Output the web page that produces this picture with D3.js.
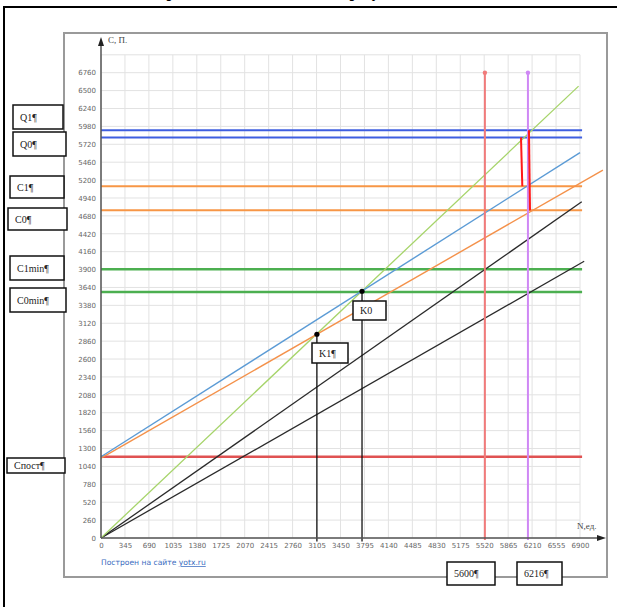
<!DOCTYPE html>
<html><head><meta charset="utf-8">
<script src="https://cdn.jsdelivr.net/npm/d3@7"></script>
<style>body{margin:0;background:#fff}svg{display:block}</style></head>
<body>
<svg id="c" width="617" height="607"></svg>
<script>
// ---------- data ----------
const nTickLabels = [0,345,690,1035,1380,1725,2070,2415,2760,3105,3450,3795,4140,4485,4830,5175,5520,5865,6210,6555,6900];
const cTickLabels = [0,260,520,780,1040,1300,1560,1820,2080,2340,2600,2860,3120,3380,3640,3900,4160,4420,4680,4940,5200,5460,5720,5980,6240,6500,6760];
const gridTop = 7020;

// sloped lines [N, C]
const totalCost0 = [[0,1180],[6900,5600]];   // blue
const totalCost1 = [[0,1160],[7230,5345]];   // orange
const revenue    = [[0,0],[6880,6565]];      // light green
const varCost0   = [[0,0],[6925,4885]];      // black upper
const varCost1   = [[0,0],[6960,4020]];      // black lower

// horizontal levels
const levelNames  = ["Q1","Q0","C1","C0","C1min","C0min","Cпост"];
const levelValues = [5925,5820,5110,4760,3905,3575,1180];
const levelEndN   = 6930;

// break-even points
const kNames = ["K1","K0"];
const kN = [3110,3760];
const kC = [2960,3585];

// vertical markers
const markerNames = ["5600","6216"];
const markerN = [5530,6150];
const markerTopC = 6760;

// red connector segments [[N,C],[N,C]]
const connectors = [
  [[6050,5820],[6069,5110]],
  [[6165,5925],[6180,4760]]
];

// ---------- layout ----------
const svg = d3.select("#c");
const x = d3.scaleLinear().domain([0,6900]).range([101,580]);
const y = d3.scaleLinear().domain([0,6760]).range([538,72.7]);

// title (cut off at top in the reference; only descenders visible)
svg.append("text").attr("x",155).attr("y",-3.5)
  .attr("font-family","Liberation Serif").attr("font-weight","bold").attr("font-size",16)
  .text("Сравнение точек на метке результатов");

// outer black frame
svg.append("path").attr("d","M4,607 V7 H617").attr("fill","none").attr("stroke","#000").attr("stroke-width",2);

// chart frame
svg.append("rect").attr("x",64).attr("y",33).attr("width",543).attr("height",544)
  .attr("fill","#fff").attr("stroke","#9a9a9a").attr("stroke-width",2);

// grid
const g = svg.append("g");
g.selectAll(".vg").data(nTickLabels).join("line")
  .attr("x1",d=>x(d)).attr("x2",d=>x(d)).attr("y1",y(0)).attr("y2",y(gridTop))
  .attr("stroke","#e2e2e2").attr("stroke-width",1);
g.selectAll(".hg").data(cTickLabels.concat([gridTop])).join("line")
  .attr("x1",x(0)).attr("x2",x(6900)).attr("y1",d=>y(d)).attr("y2",d=>y(d))
  .attr("stroke","#e2e2e2").attr("stroke-width",1);

// axes labels
const xAxis = d3.axisBottom(x).tickValues(nTickLabels).tickSize(0).tickPadding(0).tickFormat(d3.format("d"));
const xa = svg.append("g").attr("transform",`translate(0,${y(0)+5})`).call(xAxis);
xa.select(".domain").remove();
xa.selectAll("text").attr("font-family","DejaVu Sans").attr("font-size",7).attr("fill","#666");

const yAxis = d3.axisLeft(y).tickValues(cTickLabels).tickSize(0).tickPadding(0).tickFormat(d3.format("d"));
const ya = svg.append("g").attr("transform",`translate(${x(0)-5},0)`).call(yAxis);
ya.select(".domain").remove();
ya.selectAll("text").attr("font-family","DejaVu Sans").attr("font-size",7).attr("fill","#666");

// horizontal level lines
const levelColors = ["#3f5fe0","#3f5fe0","#f79646","#f79646","#4caf50","#4caf50","#e05252"];
const levelWidths = [2,2,2,2,2.5,2.5,2.5];
svg.append("g").selectAll("line").data(levelValues).join("line")
  .attr("x1",x(0)).attr("x2",x(levelEndN))
  .attr("y1",d=>y(d)).attr("y2",d=>y(d))
  .attr("stroke",(d,i)=>levelColors[i]).attr("stroke-width",(d,i)=>levelWidths[i]);

// sloped lines
const line = d3.line().x(d=>x(d[0])).y(d=>y(d[1]));
const sloped = [
  {data:varCost1, color:"#2a2a2a", w:1.3},
  {data:varCost0, color:"#2a2a2a", w:1.3},
  {data:revenue, color:"#a6d46a", w:1.3},
  {data:totalCost1, color:"#f4914a", w:1.4},
  {data:totalCost0, color:"#5b9bd5", w:1.4}
];
svg.append("g").selectAll("path").data(sloped).join("path")
  .attr("d",d=>line(d.data)).attr("fill","none")
  .attr("stroke",d=>d.color).attr("stroke-width",d=>d.w);

// vertical markers
const markerColors = ["#f07b7b","#cf88f5"];
const mg = svg.append("g");
mg.selectAll("line").data(markerN).join("line")
  .attr("x1",d=>x(d)).attr("x2",d=>x(d)).attr("y1",y(markerTopC)).attr("y2",y(-30))
  .attr("stroke",(d,i)=>markerColors[i]).attr("stroke-width",2);
mg.selectAll("circle").data(markerN).join("circle")
  .attr("cx",d=>x(d)).attr("cy",y(markerTopC)).attr("r",2.2)
  .attr("fill",(d,i)=>markerColors[i]);

// connectors
svg.append("g").selectAll("path").data(connectors).join("path")
  .attr("d",d=>line(d)).attr("stroke","#ff1a1a").attr("stroke-width",2).attr("fill","none");

// K drop lines and points
const kg = svg.append("g");
kg.selectAll("line").data(kN).join("line")
  .attr("x1",d=>x(d)).attr("x2",d=>x(d)).attr("y1",(d,i)=>y(kC[i])).attr("y2",y(-50))
  .attr("stroke","#111").attr("stroke-width",1.3);
kg.selectAll("circle").data(kN).join("circle")
  .attr("cx",d=>x(d)).attr("cy",(d,i)=>y(kC[i])).attr("r",2.6).attr("fill","#000");

// axis lines with arrows
svg.append("line").attr("x1",x(0)).attr("x2",x(0)).attr("y1",y(0)).attr("y2",42).attr("stroke","#555").attr("stroke-width",1.5);
svg.append("path").attr("d",`M${x(0)},37 L${x(0)-3},46 L${x(0)+3},46 Z`).attr("fill","#222");
svg.append("line").attr("x1",x(0)).attr("x2",600).attr("y1",y(0)).attr("y2",y(0)).attr("stroke","#555").attr("stroke-width",1.5);
svg.append("path").attr("d",`M606,${y(0)} L597,${y(0)-3} L597,${y(0)+3} Z`).attr("fill","#222");

svg.append("text").attr("x",108).attr("y",43).attr("font-family","Liberation Serif").attr("font-size",9).attr("fill","#444").text("C, П.");
svg.append("text").attr("x",577).attr("y",529).attr("font-family","Liberation Serif").attr("font-size",9).attr("fill","#444").text("N,ед.");

// site credit
const credit = svg.append("text").attr("x",101).attr("y",565).attr("font-family","DejaVu Sans").attr("font-size",7.6).attr("fill","#3a6cc0");
credit.append("tspan").text("Построен на сайте ");
credit.append("tspan").attr("text-decoration","underline").text("yotx.ru");

// annotation text boxes (Word-style)
const boxes = [
  {t:"Q1¶", x:13, y:105, w:50, h:24},
  {t:"Q0¶", x:13, y:132, w:53, h:24},
  {t:"C1¶", x:10, y:176, w:54, h:22},
  {t:"C0¶", x:8, y:208, w:59, h:22},
  {t:"C1min¶", x:10, y:256, w:54, h:24},
  {t:"C0min¶", x:10, y:288, w:56, h:24},
  {t:"Cпост¶", x:7, y:458, w:58, h:15},
  {t:"K0", x:353, y:301, w:33, h:19},
  {t:"K1¶", x:312, y:343, w:36, h:20},
  {t:"5600¶", x:447, y:562, w:48, h:23},
  {t:"6216¶", x:517, y:562, w:45, h:23}
];
const bg = svg.append("g").selectAll("g").data(boxes).join("g");
bg.append("rect").attr("x",d=>d.x).attr("y",d=>d.y).attr("width",d=>d.w).attr("height",d=>d.h)
  .attr("fill","#fff").attr("stroke","#111").attr("stroke-width",1.5);
bg.append("text").attr("x",d=>d.x+7).attr("y",d=>d.y+d.h/2+3.5)
  .attr("font-family","Liberation Serif").attr("font-size",10).attr("fill","#222").text(d=>d.t);
</script>
</body></html>
